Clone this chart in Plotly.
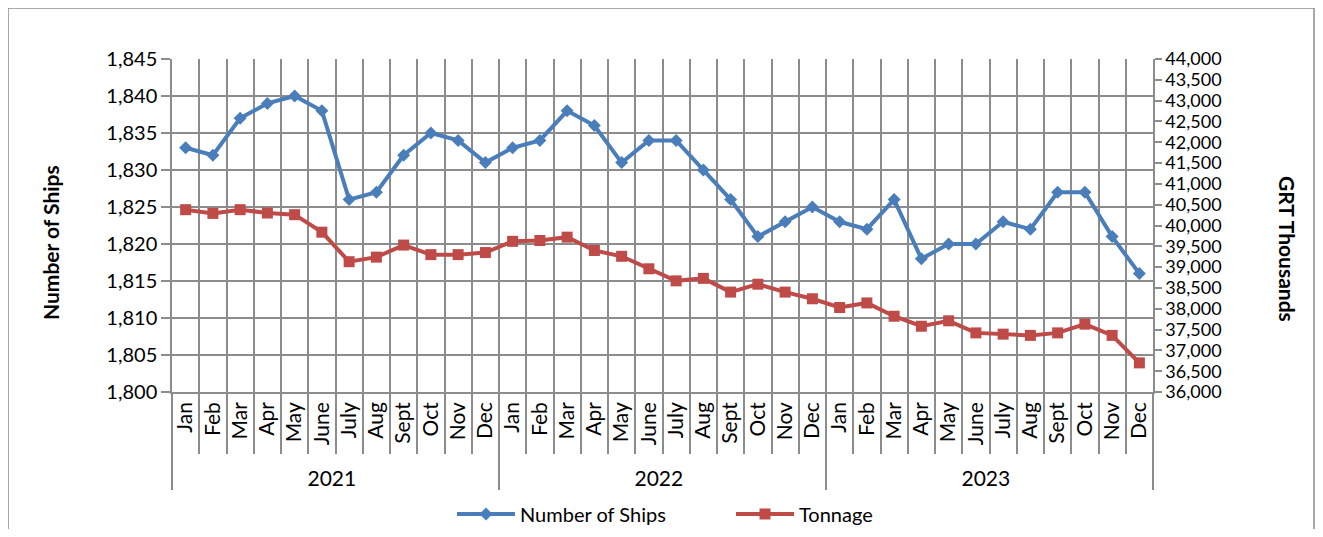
import plotly.graph_objects as go

years = ["2021"] * 12 + ["2022"] * 12 + ["2023"] * 12
month_names = ["Jan", "Feb", "Mar", "Apr", "May", "June", "July", "Aug", "Sept", "Oct", "Nov", "Dec"]
months = month_names * 3

ships = [1833, 1832, 1837, 1839, 1840, 1838, 1826, 1827, 1832, 1835, 1834, 1831,
         1833, 1834, 1838, 1836, 1831, 1834, 1834, 1830, 1826, 1821, 1823, 1825,
         1823, 1822, 1826, 1818, 1820, 1820, 1823, 1822, 1827, 1827, 1821, 1816]

tonnage = [40380, 40290, 40380, 40300, 40260, 39840, 39130, 39240, 39530, 39300, 39300, 39350,
           39620, 39640, 39720, 39400, 39260, 38960, 38670, 38730, 38400, 38590, 38400, 38240,
           38030, 38140, 37820, 37580, 37710, 37420, 37390, 37360, 37420, 37630, 37360, 36700]

left_ticks = list(range(1800, 1846, 5))
right_ticks = list(range(36000, 44001, 500))

# page body has an 8px margin; figure sized/margined to sit where the reference does
OFF = 8
W, H = 1307, 521
ML, MT = 172 - OFF, 59 - OFF
MR = W - (1153 - OFF)
MB = H - (392 - OFF)
PW, PH = W - ML - MR, H - MT - MB

FONT = "Lato"
GRID = "#8c8c8c"
BLUE = "#4a7ebb"
RED = "#be4b48"

fig = go.Figure()
fig.add_trace(go.Scatter(
    x=[years, months], y=ships, name="Number of Ships", mode="lines+markers",
    line=dict(color=BLUE, width=4), marker=dict(symbol="diamond", size=10, color=BLUE),
))
fig.add_trace(go.Scatter(
    x=[years, months], y=tonnage, name="Tonnage", mode="lines+markers", yaxis="y2",
    line=dict(color=RED, width=4), marker=dict(symbol="square", size=11, color=RED),
))

def px_x(p):
    return (p - OFF - ML) / PW

def px_y(p):
    return (H - MB - (p - OFF)) / PH

fig.update_layout(
    width=W, height=H,
    margin=dict(l=ML, r=MR, t=MT, b=MB, autoexpand=False),
    paper_bgcolor="white", plot_bgcolor="white",
    font=dict(family=FONT, size=20, color="#000000"),
    showlegend=True,
    legend=dict(orientation="h", x=px_x(452), xanchor="left", y=px_y(514), yanchor="middle",
                font=dict(family=FONT, size=20), itemwidth=58,
                entrywidth=206, entrywidthmode="pixels"),
    xaxis=dict(
        type="multicategory", range=[-0.5, len(months) - 0.5],
        tickson="boundaries", showgrid=True, gridcolor=GRID, gridwidth=1.5,
        ticks="outside", ticklen=60, tickcolor=GRID, tickwidth=1.5, tickangle=-90,
        showline=True, linecolor=GRID, linewidth=1.5,
        showdividers=True, dividercolor=GRID, dividerwidth=1.5,
        tickfont=dict(family=FONT, size=21), automargin=False,
    ),
    yaxis=dict(
        range=[1800, 1845], tickvals=left_ticks, tickformat=",d",
        showgrid=True, gridcolor=GRID, gridwidth=1.5, zeroline=False,
        ticks="outside", ticklen=9, tickcolor=GRID, tickwidth=1.5,
        showline=True, linecolor=GRID, linewidth=1.5,
        tickfont=dict(family=FONT, size=20), automargin=False,
    ),
    yaxis2=dict(
        range=[36000, 44000], tickvals=right_ticks, tickformat=",d", overlaying="y", side="right",
        showgrid=False, zeroline=False,
        ticks="outside", ticklen=7, tickcolor=GRID, tickwidth=1.5,
        showline=True, linecolor=GRID, linewidth=1.5,
        tickfont=dict(family=FONT, size=18), automargin=False,
    ),
    annotations=[
        dict(text="<b>Number of Ships</b>", textangle=-90, xref="paper", yref="paper",
             x=px_x(50), y=px_y(243), xanchor="center", yanchor="middle", showarrow=False,
             font=dict(family=FONT, size=21)),
        dict(text="<b>GRT Thousands</b>", textangle=90, xref="paper", yref="paper",
             x=px_x(1288), y=px_y(249), xanchor="center", yanchor="middle", showarrow=False,
             font=dict(family=FONT, size=21)),
    ],
    shapes=[dict(
        type="rect", xref="paper", yref="paper", layer="below",
        x0=px_x(OFF), x1=px_x(OFF + W - 1), y0=px_y(OFF), y1=px_y(OFF + H + 10),
        line=dict(color="#8c8c8c", width=1.5), fillcolor="rgba(0,0,0,0)",
    )],
)

fig.write_html("out.html")
